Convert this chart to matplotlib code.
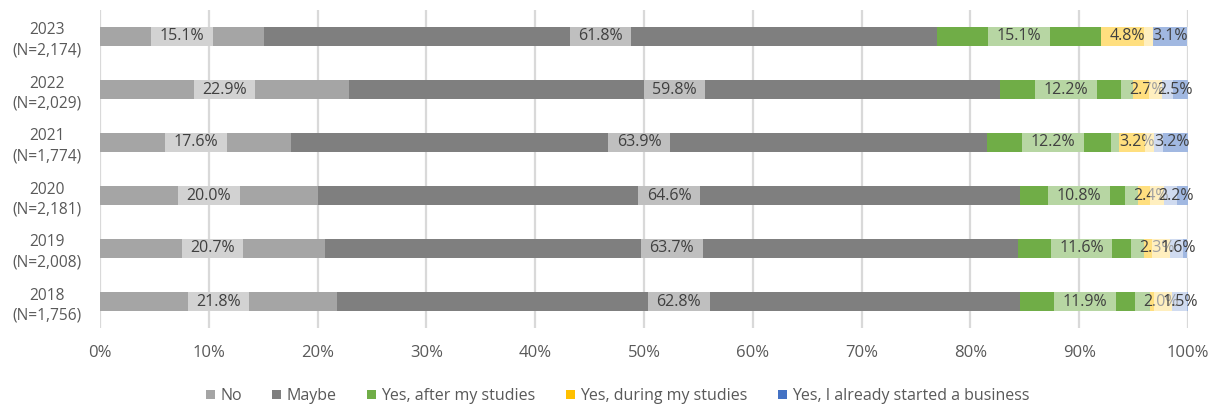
import matplotlib
matplotlib.use("Agg")
import matplotlib.pyplot as plt
from matplotlib.patches import Rectangle
import numpy as np

plt.rcParams['font.family'] = ['Open Sans', 'DejaVu Sans']

# Survey years, top to bottom
years = ["2023\n(N=2,174)", "2022\n(N=2,029)", "2021\n(N=1,774)",
         "2020\n(N=2,181)", "2019\n(N=2,008)", "2018\n(N=1,756)"]

series_names = ["No", "Maybe", "Yes, after my studies",
                "Yes, during my studies", "Yes, I already started a business"]

no_vals = [15.1, 22.9, 17.6, 20.0, 20.7, 21.8]
maybe_vals = [61.8, 59.8, 63.9, 64.6, 63.7, 62.8]
after_vals = [15.1, 12.2, 12.2, 10.8, 11.6, 11.9]
during_vals = [4.8, 2.7, 3.2, 2.4, 2.3, 2.0]
started_vals = [3.1, 2.5, 3.2, 2.2, 1.6, 1.5]

colors = ["#a5a5a5", "#7f7f7f", "#70ad47", "#ffc000", "#4472c4"]

series = [no_vals, maybe_vals, after_vals, during_vals, started_vals]

W, H = 1209, 405
fig = plt.figure(figsize=(W / 100, H / 100), dpi=100)
ax = fig.add_axes([100 / W, (H - 328) / H, 1088 / W, 318 / H])

ypos = np.arange(len(years))
bar_h = 0.376
left = np.zeros(len(years))
for vals, col, name in zip(series, colors, series_names):
    ax.barh(ypos, vals, left=left, height=bar_h, color=col, label=name,
            zorder=2, linewidth=0)
    left = left + np.array(vals)

ax.set_xlim(0, 100)
ax.set_ylim(len(years) - 0.5, -0.5)
ax.set_xticks(np.arange(0, 101, 10))
ax.set_xticklabels([f"{v}%" for v in range(0, 101, 10)])
ax.set_yticks(ypos)
ax.set_yticklabels(years, multialignment='center', linespacing=1.35)
ax.tick_params(axis='both', length=0, colors='#595959')
ax.tick_params(axis='x', pad=12, labelsize=12)
ax.tick_params(axis='y', pad=13, labelsize=11.2)
for sp in ax.spines.values():
    sp.set_visible(False)
ax.grid(axis='x', color='#d9d9d9', linewidth=1.6, zorder=0)
ax.set_axisbelow(True)

# Value labels with semi-transparent white boxes
fig.canvas.draw()
renderer = fig.canvas.get_renderer()
ax_w_px = ax.get_window_extent(renderer).width
pad_px = 8.5
z = 3
left = np.zeros(len(years))
for vals in series:
    for i, v in enumerate(vals):
        cx = left[i] + v / 2
        t = ax.text(cx, i, f"{v:.1f}%", ha='center', va='center',
                    fontsize=11.5, color='#404040', zorder=z + 1)
        w_px = t.get_window_extent(renderer).width + 2 * pad_px
        w = w_px / ax_w_px * 100
        ax.add_patch(Rectangle((cx - w / 2, i - bar_h / 2), w, bar_h,
                               facecolor='white', alpha=0.5, linewidth=0,
                               zorder=z, clip_on=False))
        z += 2
    left = left + np.array(vals)

leg = fig.legend(loc='center', bbox_to_anchor=(618 / W, 1 - 396 / H), ncol=5,
                 frameon=False, fontsize=11.5, handlelength=0.55,
                 handleheight=0.55, handletextpad=0.35, columnspacing=1.9)
for txt in leg.get_texts():
    txt.set_color('#595959')

fig.savefig("out.png", dpi=100)
